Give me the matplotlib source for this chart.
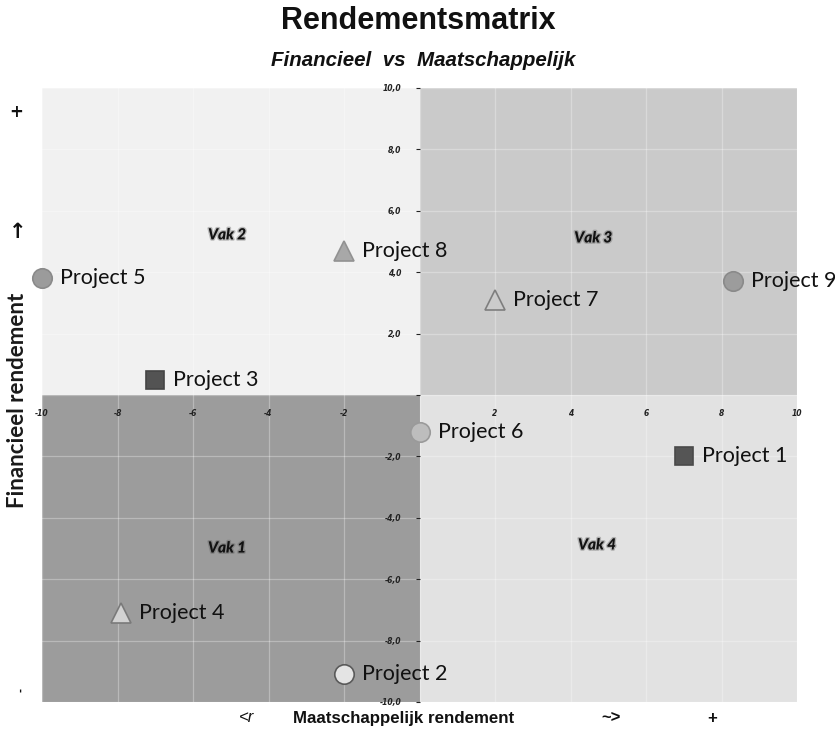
import matplotlib
matplotlib.use("Agg")
import matplotlib.pyplot as plt
from matplotlib.patches import Rectangle
from matplotlib.ticker import FuncFormatter, MultipleLocator
import matplotlib.patheffects as pe

# Project positions: social return (x) vs financial return (y)
projects = ["Project 1", "Project 2", "Project 3", "Project 4", "Project 5",
            "Project 6", "Project 7", "Project 8", "Project 9"]
maatschappelijk = [7.0, -2.0, -7.0, -7.9, -10.0, 0.0, 2.0, -2.0, 8.3]
financieel = [-2.0, -9.1, 0.5, -7.1, 3.8, -1.2, 3.1, 4.7, 3.7]

quadrant_labels = ["Vak 1", "Vak 2", "Vak 3", "Vak 4"]
quadrant_x = [-5.1, -5.1, 4.6, 4.7]
quadrant_y = [-5.0, 5.2, 5.1, -4.9]

# Marker style per project (shape, fill, edge)
marker_style = {
    "Project 1": ("s", "#555555", "#4a4a4a"),
    "Project 2": ("o", "#e4e4e4", "#5a5a5a"),
    "Project 3": ("s", "#535353", "#454545"),
    "Project 4": ("^", "#d2d2d2", "#7a7a7a"),
    "Project 5": ("o", "#9b9b9b", "#8a8a8a"),
    "Project 6": ("o", "#bdbdbd", "#9a9a9a"),
    "Project 7": ("^", "#cbcbcb", "#7e7e7e"),
    "Project 8": ("^", "#a8a8a8", "#929292"),
    "Project 9": ("o", "#9c9c9c", "#8a8a8a"),
}

SANS = "Liberation Sans"

W, H = 835, 734
fig = plt.figure(figsize=(W / 100, H / 100), dpi=100)
fig.patch.set_facecolor("white")

ax = fig.add_axes([42 / W, 1 - 702 / H, (797 - 42) / W, (702 - 88) / H])
ax.set_xlim(-10, 10)
ax.set_ylim(-10, 10)
ax.set_facecolor("white")

# Quadrant backgrounds
quad_colors = {(-1, 1): "#f1f1f1", (1, 1): "#cacaca",
               (-1, -1): "#9c9c9c", (1, -1): "#e2e2e2"}
for (sx, sy), col in quad_colors.items():
    x0 = -10 if sx < 0 else 0
    y0 = -10 if sy < 0 else 0
    ax.add_patch(Rectangle((x0, y0), 10, 10, facecolor=col, edgecolor="none",
                           zorder=0.1))

# Faint white grid
ax.xaxis.set_major_locator(MultipleLocator(2))
ax.yaxis.set_major_locator(MultipleLocator(2))
ax.set_axisbelow(True)
ax.grid(True, color="white", alpha=0.3, linewidth=0.9)

# Axes crossing at the origin
for side in ("top", "right"):
    ax.spines[side].set_visible(False)
ax.spines["left"].set_position("zero")
ax.spines["bottom"].set_position("zero")
ax.spines["left"].set_visible(False)
ax.spines["bottom"].set_visible(False)

ax.xaxis.set_major_formatter(FuncFormatter(lambda v, p: "" if abs(v) < 1e-9 else f"{v:.0f}"))
ax.yaxis.set_major_formatter(FuncFormatter(
    lambda v, p: "" if abs(v) < 1e-9 else f"{v:.1f}".replace(".", ",")))
ax.tick_params(axis="x", length=0, pad=10, labelsize=5.5, colors="#222222")
ax.tick_params(axis="y", length=3, pad=10, labelsize=5.5, colors="#222222",
               direction="out")
for lab in ax.get_xticklabels() + ax.get_yticklabels():
    lab.set_fontstyle("italic")
    lab.set_fontweight("bold")

# Project markers and labels
for name, x, y in zip(projects, maatschappelijk, financieel):
    m, fc, ec = marker_style[name]
    size = {"^": 15, "o": 14, "s": 13}[m]
    ax.plot(x, y, marker=m, markersize=size, markerfacecolor=fc,
            markeredgecolor=ec, markeredgewidth=1.2, linestyle="none",
            zorder=3, clip_on=False)
    ax.annotate(name, (x, y), xytext=(13, 0), textcoords="offset points",
                ha="left", va="center", fontsize=15.5, family="Lato",
                color="#111111", zorder=4, annotation_clip=False)

# Quadrant names
for lab, x, y in zip(quadrant_labels, quadrant_x, quadrant_y):
    ax.text(x, y, lab, ha="center", va="center", fontsize=11, family="Lato",
            fontweight="black", fontstyle="italic", color="#111111", zorder=4,
            path_effects=[pe.withStroke(linewidth=2.0, foreground="#555555", alpha=0.35)])

# Titles
fig.text(418 / W, 1 - 21 / H, "Rendementsmatrix", ha="center", va="center",
         fontsize=22, fontweight="bold", family=SANS, color="#111111")
fig.text(423 / W, 1 - 60 / H, "Financieel  vs  Maatschappelijk", ha="center",
         va="center", fontsize=14.8, fontweight="bold", fontstyle="italic",
         family=SANS, color="#111111")

# Vertical axis caption with direction markers
fig.text(18 / W, 1 - 400 / H, "Financieel rendement", rotation=90, ha="center",
         va="center", fontsize=16, fontweight="bold", family="Lato", color="#1a1a1a")
fig.text(18 / W, 1 - 232 / H, "↑", ha="center", va="center", fontsize=15,
         fontweight="bold", family="DejaVu Sans", color="#111111")
fig.text(16 / W, 1 - 112 / H, "+", ha="center", va="center", fontsize=12,
         fontweight="bold", family="DejaVu Sans", color="#111111")
fig.text(21 / W, 1 - 690 / H, "-", rotation=90, ha="center", va="center",
         fontsize=7, fontweight="bold", family="DejaVu Sans", color="#111111")

# Horizontal axis caption with direction markers
fig.text(404 / W, 1 - 718 / H, "Maatschappelijk rendement", ha="center",
         va="center", fontsize=12.2, fontweight="bold", family=SANS,
         color="#111111")
fig.text(247 / W, 1 - 718 / H, "<r", ha="center", va="center", fontsize=12,
         fontstyle="italic", family=SANS, color="#111111")
fig.text(611 / W, 1 - 718 / H, "~>", ha="center", va="center", fontsize=12,
         fontweight="bold", family=SANS, color="#111111")
fig.text(712 / W, 1 - 718 / H, "+", ha="center", va="center", fontsize=12,
         fontweight="bold", family=SANS, color="#111111")

fig.savefig("out.png", dpi=100, facecolor="white")
